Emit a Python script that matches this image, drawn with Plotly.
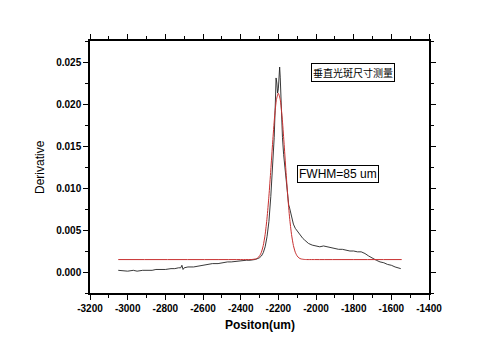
import plotly.graph_objects as go

# Measured derivative (black)
meas_x = [-3050, -3020, -3000, -2970, -2950, -2920, -2900, -2870, -2850, -2820, -2800, -2770,
          -2750, -2730, -2718, -2712, -2706, -2700, -2680, -2650, -2620, -2600, -2570, -2550,
          -2520, -2500, -2470, -2450, -2420, -2400, -2370, -2350, -2320, -2300, -2290, -2280,
          -2270, -2260, -2250, -2240, -2230, -2222, -2216, -2212, -2208, -2204, -2200, -2196,
          -2193, -2190, -2186, -2182, -2178, -2172, -2166, -2160, -2156, -2150, -2145, -2140,
          -2130, -2120, -2110, -2100, -2090, -2080, -2070, -2060, -2050, -2040, -2020, -2000,
          -1980, -1960, -1940, -1920, -1900, -1880, -1860, -1840, -1820, -1800, -1780, -1760,
          -1740, -1720, -1700, -1680, -1660, -1640, -1620, -1600, -1580, -1560, -1550]
meas_y = [0.0002, 0.0001, 0.0001, 0.0002, 0.0001, 0.0002, 0.0002, 0.0002, 0.0003, 0.0003, 0.0003, 0.0004,
          0.0004, 0.0005, 0.0005, 0.0008, 0.0003, 0.0005, 0.0006, 0.0006, 0.0007, 0.0008, 0.0009, 0.0010,
          0.0010, 0.0011, 0.0012, 0.0012, 0.0013, 0.0013, 0.0014, 0.0014, 0.0015, 0.0017, 0.0019, 0.0023,
          0.0030, 0.0042, 0.0060, 0.0090, 0.0125, 0.0160, 0.0200, 0.0231, 0.0225, 0.0213, 0.0218, 0.0236,
          0.0244, 0.0232, 0.0205, 0.0180, 0.0160, 0.0140, 0.0125, 0.0118, 0.0110, 0.0095, 0.0080, 0.0076,
          0.0065, 0.0057, 0.0052, 0.0049, 0.0045, 0.0042, 0.0040, 0.0038, 0.0036, 0.0034, 0.0032, 0.0031,
          0.0030, 0.0031, 0.0030, 0.0029, 0.0028, 0.0027, 0.0027, 0.0026, 0.0025, 0.0025, 0.0024, 0.0024,
          0.0022, 0.0019, 0.0016, 0.0014, 0.0012, 0.0011, 0.0009, 0.0008, 0.0006, 0.0005, 0.0004]

# Fitted curve (red)
fit_x = [-3050, -2400, -2340, -2320, -2310, -2300, -2290, -2280, -2270, -2260, -2250, -2240,
         -2230, -2220, -2210, -2200, -2190, -2180, -2170, -2160, -2150, -2140, -2130, -2120,
         -2110, -2100, -2090, -2080, -2060, -2000, -1545]
fit_y = [0.00148, 0.00148, 0.00149, 0.00156, 0.00167, 0.00190, 0.00235, 0.00316, 0.00447, 0.00642,
         0.00903, 0.01215, 0.01547, 0.01845, 0.02053, 0.02128, 0.02053, 0.01845, 0.01547, 0.01215,
         0.00903, 0.00642, 0.00447, 0.00316, 0.00235, 0.00190, 0.00167, 0.00156, 0.00149, 0.00148, 0.00148]

# Tick labels
x_tickvals = [-3200, -3000, -2800, -2600, -2400, -2200, -2000, -1800, -1600, -1400]
x_ticktext = ["-3200", "-3000", "-2800", "-2600", "-2400", "-2200", "-2000", "-1800", "-1600", "-1400"]
y_tickvals = [0.000, 0.005, 0.010, 0.015, 0.020, 0.025]
y_ticktext = ["0.000", "0.005", "0.010", "0.015", "0.020", "0.025"]

x_range = [-3200, -1400]
y_range = [-0.0025, 0.0275]

fig = go.Figure()
fig.add_trace(go.Scatter(x=meas_x, y=meas_y, mode="lines",
                         line=dict(color="#222222", width=0.9), showlegend=False))
fig.add_trace(go.Scatter(x=fit_x, y=fit_y, mode="lines",
                         line=dict(color="#c83030", width=1, shape="spline", smoothing=0.6),
                         showlegend=False))

tickfont = dict(family="Arial, Liberation Sans", size=10, color="black", weight="bold")
axis_common = dict(showgrid=False, zeroline=False, showline=True, linecolor="black", linewidth=1.5,
                   mirror="ticks", ticks="outside", ticklen=5, tickwidth=1, tickcolor="black",
                   tickfont=tickfont, tickmode="array")

fig.update_xaxes(range=x_range, tickvals=x_tickvals, ticktext=x_ticktext,
                 minor=dict(dtick=100, tick0=-3200, ticklen=3, tickcolor="black", ticks="outside"),
                 **axis_common)
fig.update_yaxes(range=y_range, tickvals=y_tickvals, ticktext=y_ticktext,
                 minor=dict(dtick=0.0025, tick0=0, ticklen=3, tickcolor="black", ticks="outside"),
                 **axis_common)

ann_common = dict(xref="paper", yref="paper", showarrow=False, xanchor="center", yanchor="middle")
fig.add_annotation(x=(353 - 90) / 339, y=(293 - 72.5) / 252,
                   text="垂直光斑尺寸测量",
                   font=dict(family="Noto Sans CJK SC", size=10, color="black"),
                   bordercolor="black", borderwidth=1, borderpad=1, bgcolor="white", **ann_common)
fig.add_annotation(x=(337.5 - 90) / 339, y=(293 - 174) / 252,
                   text="FWHM=85 um",
                   font=dict(family="Arial, Liberation Sans", size=12, color="black"),
                   bordercolor="black", borderwidth=1, borderpad=1, bgcolor="white", **ann_common)
fig.add_annotation(x=(40 - 90) / 339, y=0.5, textangle=-90,
                   text="Derivative",
                   font=dict(family="Arial, Liberation Sans", size=12, color="black"), **ann_common)
fig.add_annotation(x=0.5, y=(293 - 325) / 252,
                   text="Positon(um)",
                   font=dict(family="Arial, Liberation Sans", size=12, color="black", weight="bold"),
                   **ann_common)

fig.update_layout(width=500, height=352, margin=dict(l=90, r=71, t=41, b=59),
                  paper_bgcolor="white", plot_bgcolor="white")

fig.write_html("out.html")
